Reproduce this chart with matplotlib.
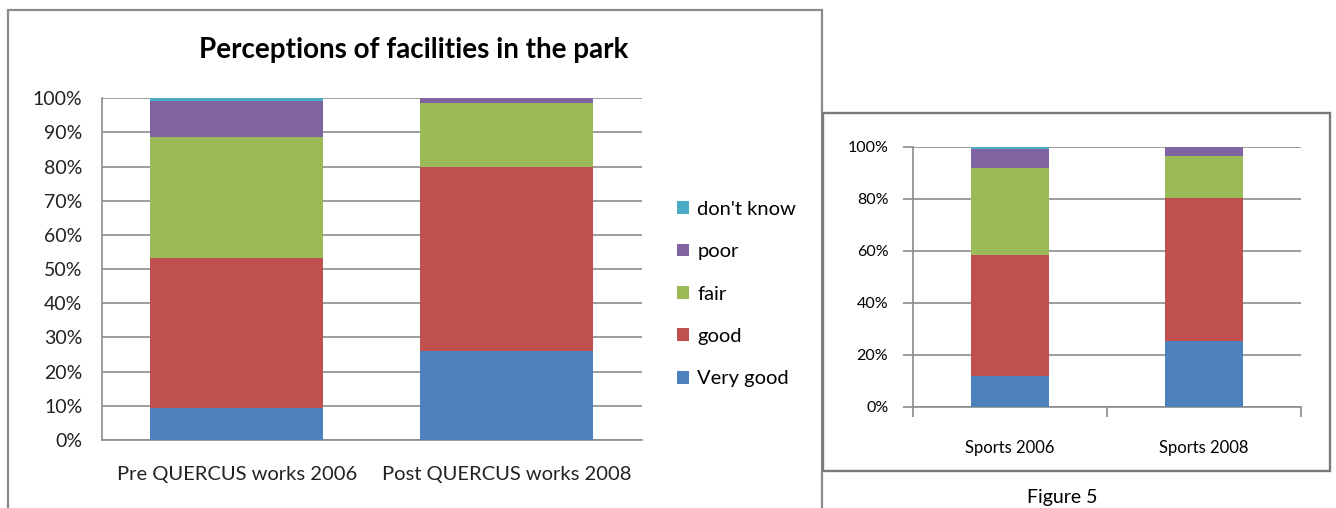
import matplotlib
matplotlib.use("Agg")
import matplotlib.pyplot as plt
from matplotlib.patches import Rectangle
from matplotlib.ticker import PercentFormatter
import numpy as np

plt.rcParams["font.family"] = ["Lato", "DejaVu Sans"]

# response categories, bottom to top of each stack
levels = ["Very good", "good", "fair", "poor", "don't know"]
colors = ["#4F81BD", "#C0504D", "#9BBB59", "#8064A2", "#4BACC6"]

park_groups = ["Pre QUERCUS works 2006", "Post QUERCUS works 2008"]
park_very_good = [9.3, 26.1]
park_good = [44.0, 53.9]
park_fair = [35.5, 18.7]
park_poor = [10.5, 1.3]
park_dont_know = [0.7, 0.0]

sports_groups = ["Sports 2006", "Sports 2008"]
sports_very_good = [11.8, 25.1]
sports_good = [46.7, 55.0]
sports_fair = [33.3, 16.2]
sports_poor = [7.3, 3.7]
sports_dont_know = [0.9, 0.0]

W, H = 1336, 508
GRID = "#8c8c8c"


def px_box(x0, y0, x1, y1):
    """pixel box (top-left origin) -> figure fraction rect"""
    return [x0 / W, 1 - y1 / H, (x1 - x0) / W, (y1 - y0) / H]


def stacked(ax, groups, series, width):
    x = np.arange(len(groups))
    bottom = np.zeros(len(groups))
    bars = []
    for vals, col, lab in zip(series, colors, levels):
        vals = np.asarray(vals, dtype=float)
        bars.append(ax.bar(x, vals, width, bottom=bottom, color=col, label=lab, zorder=3))
        bottom += vals
    ax.set_xlim(-0.5, len(groups) - 0.5)
    ax.set_ylim(0, 100)
    ax.set_xticks(x)
    ax.set_xticklabels(groups)
    ax.yaxis.set_major_formatter(PercentFormatter(decimals=0))
    ax.grid(axis="y", color=GRID, linewidth=1.2, zorder=0)
    for side in ("top", "right"):
        ax.spines[side].set_visible(False)
    for side in ("left", "bottom"):
        ax.spines[side].set_color(GRID)
        ax.spines[side].set_linewidth(1.2)
    return bars


fig = plt.figure(figsize=(W / 100, H / 100), dpi=100)

# frames around the two charts
fig.patches.append(Rectangle((8 / W, -0.05), (822 - 8) / W, (H - 10) / H + 0.05,
                             transform=fig.transFigure, fill=False,
                             edgecolor="#8a8a8a", linewidth=1.6))
fig.patches.append(Rectangle((823 / W, 1 - 471 / H), (1330 - 823) / W, (471 - 113) / H,
                             transform=fig.transFigure, fill=False,
                             edgecolor="#7a7a7a", linewidth=1.7))

# left chart: park facilities
ax1 = fig.add_axes(px_box(101.7, 98.3, 641.7, 440))
bars = stacked(ax1, park_groups,
               [park_very_good, park_good, park_fair, park_poor, park_dont_know], 0.64)
ax1.set_yticks(np.arange(0, 101, 10))
ax1.tick_params(axis="both", length=0, colors="#222222")
ax1.tick_params(axis="y", pad=14, labelsize=14)
ax1.tick_params(axis="x", pad=19, labelsize=14.5)

fig.text(414 / W, 1 - 50 / H, "Perceptions of facilities in the park",
         ha="center", va="center", fontsize=20, fontweight="bold")

fig.legend(handles=bars[::-1], labels=levels[::-1], loc="center left",
           bbox_to_anchor=(677 / W, 1 - 294 / H), frameon=False, fontsize=14.5,
           handlelength=0.6, handleheight=0.6, handletextpad=0.4,
           labelspacing=1.26, borderpad=0, borderaxespad=0)

# right chart: sports facilities
ax2 = fig.add_axes(px_box(913.3, 146.7, 1301, 406.7))
stacked(ax2, sports_groups,
        [sports_very_good, sports_good, sports_fair, sports_poor, sports_dont_know], 0.40)
ax2.set_yticks(np.arange(0, 101, 20))
ax2.tick_params(axis="y", length=7, width=1.2, color=GRID, labelsize=11.5, pad=11)
ax2.set_xticks([-0.5, 0.5, 1.5], minor=True)
ax2.tick_params(axis="x", which="major", length=0, labelsize=12, pad=24)
ax2.tick_params(axis="x", which="minor", length=7, width=1.2, color=GRID)

fig.text(1062 / W, 1 - 506 / H, "Figure 5", ha="center", va="bottom", fontsize=14)

fig.savefig("out.png", dpi=100)
